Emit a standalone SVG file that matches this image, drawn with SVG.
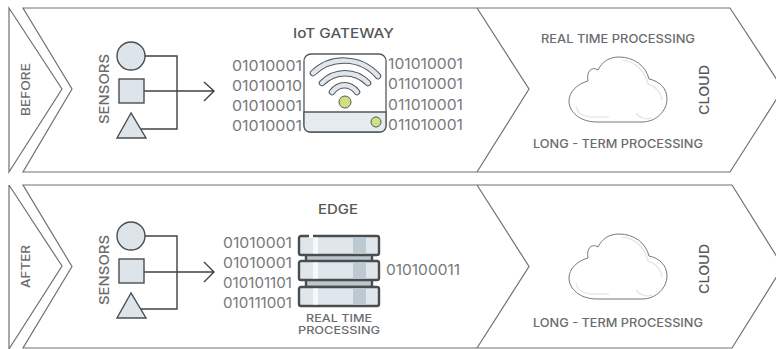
<svg xmlns="http://www.w3.org/2000/svg" width="776" height="349" viewBox="0 0 776 349">
<style>
text{font-family:Inter,"Liberation Sans",sans-serif;fill:#6a6c6e;font-size:13px;font-weight:500;text-anchor:middle;dominant-baseline:central}
.bin{font-size:14px;font-weight:400;fill:#77797b}
.lab{font-size:11.500px}
.small{font-size:10.500px}
.stage{font-size:11.500px}
.dark{fill:#55585a}
.panel{fill:none;stroke:#6f7173;stroke-width:1.2}
.sh{fill:#dde4ea;stroke:#4b4d4f;stroke-width:1.4}
.wire{fill:none;stroke:#3f4143;stroke-width:1.4}
.cl{fill:#fff;stroke:#77797b;stroke-width:1}
.hl{fill:none;stroke:#e2eaef;stroke-width:1.5}
.arcO{fill:none;stroke:#55585a;stroke-width:6.500;stroke-linecap:round}
.arcI{fill:none;stroke:#e0e7ec;stroke-width:4.500;stroke-linecap:round}
.led{fill:#cfe083;stroke:#55585a;stroke-width:1}
.disc{fill:#dfe7ed;stroke:#4a4c4e;stroke-width:2.4}
.conn{fill:#b9c7cf;stroke:#4a4c4e;stroke-width:2.4}
.lite{fill:#f6f8fa}
.mid{fill:#bcc9d1}
</style>
<defs>
<g id="sensorIcons">
<circle class="sh" cx="131" cy="56" r="14"/>
<rect class="sh" x="119" y="79" width="25" height="24"/>
<polygon class="sh" points="131,113 117,138 146,138"/>
</g>
<g id="cloudShape">
<path class="cl" d="M597 122H642C657 122 667 110 667 99C667 88 659 81 649 79C646 66 634 57 619 57C609 57 602 62 598 70C592 66 586 71 588 81C577 84 569 92 569 101C569 112 580 122 597 122Z"/>
<path class="hl" d="M576 106C577 112 581 116 590 117H609M636 113C639 118 646 120 652 118M622 60C634 61 645 70 648 84C655 86 661 92 662 100"/>
</g>
<g id="disc">
<rect class="disc" x="299" y="0" width="80" height="19" rx="2"/>
<rect class="lite" x="313" y="1.5" width="5" height="16"/>
<rect class="mid" x="353" y="1.5" width="13" height="16"/>
</g>
</defs>

<g id="connectors">
<path class="wire" d="M145 56H177V129H141M144 91H214M204 82L214 91L204 101"/>
<path class="wire" d="M145 236H177V309H141M144 272H214M204 262L214 272L204 282"/>
</g>

<g id="before-stage"><path class="panel" d="M9 8L62 89L9 172Z"/><text class="stage" transform="translate(26 89.500) rotate(-90)" textLength="53" lengthAdjust="spacingAndGlyphs">BEFORE</text></g>
<g id="before-panel"><path class="panel" d="M23 8H730L783 89L730 172H23L72 89Z"/><path class="panel" d="M477 8L529 89L477 172"/></g>
<g id="before-sensors"><use href="#sensorIcons"/><text transform="translate(104 89) rotate(-90)" textLength="70" lengthAdjust="spacingAndGlyphs">SENSORS</text></g>
<g id="before-gateway">
<text class="dark" x="343.500" y="33" textLength="101" lengthAdjust="spacingAndGlyphs">IoT GATEWAY</text>
<text class="bin" x="267" y="65" textLength="70" lengthAdjust="spacingAndGlyphs">01010001</text>
<text class="bin" x="267" y="85" textLength="70" lengthAdjust="spacingAndGlyphs">01010010</text>
<text class="bin" x="267" y="105" textLength="70" lengthAdjust="spacingAndGlyphs">01010001</text>
<text class="bin" x="267" y="125" textLength="70" lengthAdjust="spacingAndGlyphs">01010001</text>
<rect x="304" y="54" width="82" height="78" rx="7" fill="#fff" stroke="#55585a" stroke-width="1.3"/>
<path d="M304 112H386V126a6 6 0 0 1-6 6H310a6 6 0 0 1-6-6Z" fill="#e5ebef" stroke="#55585a" stroke-width="1.3"/>
<path class="arcO" d="M313 73C331 56 360 56 378 76"/><path class="arcI" d="M313 73C331 56 360 56 378 76"/>
<path class="arcO" d="M322 83C335 70 355 70 368 83"/><path class="arcI" d="M322 83C335 70 355 70 368 83"/>
<path class="arcO" d="M332 92C339 83 350 83 357 92"/><path class="arcI" d="M332 92C339 83 350 83 357 92"/>
<circle class="led" cx="345" cy="102" r="6"/>
<circle class="led" cx="376" cy="122" r="5"/>
<text class="bin" x="425.500" y="63" textLength="75" lengthAdjust="spacingAndGlyphs">101010001</text>
<text class="bin" x="425.500" y="83" textLength="75" lengthAdjust="spacingAndGlyphs">011010001</text>
<text class="bin" x="425.500" y="104" textLength="75" lengthAdjust="spacingAndGlyphs">011010001</text>
<text class="bin" x="425.500" y="124" textLength="75" lengthAdjust="spacingAndGlyphs">011010001</text>
</g>
<g id="before-cloud">
<text class="lab" x="618" y="39" textLength="154" lengthAdjust="spacingAndGlyphs">REAL TIME PROCESSING</text>
<use href="#cloudShape"/>
<text class="dark" transform="translate(704 90) rotate(-90)" textLength="50" lengthAdjust="spacingAndGlyphs">CLOUD</text>
<text class="lab" x="618" y="144" textLength="170" lengthAdjust="spacingAndGlyphs">LONG - TERM PROCESSING</text>
</g>

<g id="after-stage"><path class="panel" d="M9 185L62 266L9 349V185"/><text class="stage" transform="translate(26 266.500) rotate(-90)" textLength="43" lengthAdjust="spacingAndGlyphs">AFTER</text></g>
<g id="after-panel"><path class="panel" d="M23 185H732L783 266.500L732 348H23L72 266.500Z"/><path class="panel" d="M477 185L529 266.500L477 348"/></g>
<g id="after-sensors"><use href="#sensorIcons" y="180"/><text transform="translate(104 270) rotate(-90)" textLength="70" lengthAdjust="spacingAndGlyphs">SENSORS</text></g>
<g id="after-edge">
<text class="dark" x="338" y="209" textLength="40" lengthAdjust="spacingAndGlyphs">EDGE</text>
<text class="bin" x="257.500" y="242" textLength="69" lengthAdjust="spacingAndGlyphs">01010001</text>
<text class="bin" x="257.500" y="262" textLength="69" lengthAdjust="spacingAndGlyphs">01010001</text>
<text class="bin" x="257.500" y="282" textLength="69" lengthAdjust="spacingAndGlyphs">010101101</text>
<text class="bin" x="257.500" y="302" textLength="69" lengthAdjust="spacingAndGlyphs">010111001</text>
<rect class="conn" x="306" y="254" width="66" height="8"/>
<rect class="conn" x="306" y="279" width="66" height="8"/>
<use href="#disc" y="236"/>
<rect x="309" y="233" width="4" height="5" fill="#fff"/>
<use href="#disc" y="261"/>
<use href="#disc" y="287"/>
<text class="bin" x="423" y="269" textLength="74" lengthAdjust="spacingAndGlyphs">010100011</text>
<text class="small" x="339" y="318" textLength="66" lengthAdjust="spacingAndGlyphs">REAL TIME</text>
<text class="small" x="339" y="330.500" textLength="82" lengthAdjust="spacingAndGlyphs">PROCESSING</text>
</g>
<g id="after-cloud">
<use href="#cloudShape" y="177"/>
<text class="dark" transform="translate(704 269) rotate(-90)" textLength="50" lengthAdjust="spacingAndGlyphs">CLOUD</text>
<text class="lab" x="618" y="323" textLength="170" lengthAdjust="spacingAndGlyphs">LONG - TERM PROCESSING</text>
</g>
</svg>
